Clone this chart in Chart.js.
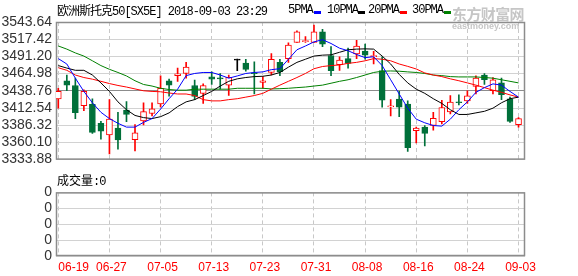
<!DOCTYPE html>
<html>
<head>
<meta charset="utf-8">
<script src="https://cdn.jsdelivr.net/npm/chart.js@4.4.1/dist/chart.umd.min.js"></script>
<style>
body { margin: 0; background: #fff; width: 578px; height: 276px; position: relative; overflow: hidden; }
.t { position: absolute; white-space: nowrap; font-size: 12px; line-height: 14px; color: #000; }
.cjk { font-family: "Noto Sans CJK SC", sans-serif; letter-spacing: -1px; }
.asc { font-family: "Liberation Mono", monospace; letter-spacing: -1px; }
.mk { position: absolute; width: 7px; height: 3px; }
canvas { position: absolute; left: 0; }
.wm { position: absolute; white-space: nowrap; color: #c6c6c6; font-weight: bold; }
</style>
</head>
<body>
<canvas id="main" width="578" height="172" style="top:0"></canvas>
<canvas id="vol" width="578" height="96" style="top:180px"></canvas>

<div class="t" style="left:57px;top:3px"><span class="cjk">欧洲斯托克</span><span class="asc">50[SX5E] 2018-09-03 23:29</span></div>

<div class="t asc" style="left:288px;top:3px">5PMA</div><i class="mk" style="left:314px;top:11px;background:#0000ff"></i>
<div class="t asc" style="left:327px;top:3px">10PMA</div><i class="mk" style="left:358px;top:11px;background:#000"></i>
<div class="t asc" style="left:368px;top:3px">20PMA</div><i class="mk" style="left:400px;top:11px;background:#ff0000"></i>
<div class="t asc" style="left:412px;top:3px">30PMA</div><i class="mk" style="left:444px;top:11px;background:#008000"></i>

<div class="wm" style="left:452px;top:3px;font-size:15px;font-family:'Noto Sans CJK SC';letter-spacing:-0.6px">东方财富网</div>
<div class="wm" style="left:452px;top:21px;font-size:9px;font-family:'Liberation Sans'">eastmoney.com</div>

<div class="t" style="left:57px;top:173px"><span class="cjk" style="letter-spacing:0">成交量</span><span class="asc">:0</span></div>

<script>
// trading days shown on the chart
const dates = ['06-19','06-20','06-21','06-22','06-25','06-26','06-27','06-28','06-29',
  '07-02','07-03','07-04','07-05','07-06','07-09','07-10','07-11','07-12','07-13',
  '07-16','07-17','07-18','07-19','07-20','07-23','07-24','07-25','07-26','07-27',
  '07-30','07-31','08-01','08-02','08-03','08-06','08-07','08-08','08-09','08-10',
  '08-13','08-14','08-15','08-16','08-17','08-20','08-21','08-22','08-23','08-24',
  '08-27','08-28','08-29','08-30','08-31','09-03'];

const openP = [3426.2,3454.1,3446.9,3416.2,3418.1,3389.2,3371.4,3382.0,3409.4,3364.2,
  3393.0,3404.1,3418.6,3454.1,3461.9,3465.2,3446.9,3434.9,3459.9,3458.0,
  3447.4,3485.4,3481.1,3465.7,3451.7,3466.7,3482.0,3487.8,3512.4,3513.8,
  3512.4,3528.7,3492.6,3478.7,3487.8,3495.0,3499.4,3490.7,3469.5,3414.2,
  3426.2,3418.6,3378.1,3383.4,3385.8,3391.6,3406.5,3421.9,3423.4,3445.5,
  3462.8,3438.8,3450.8,3426.7,3387.3];
const highP = [3442.6,3462.8,3458.0,3440.2,3426.7,3392.1,3425.3,3406.0,3422.4,3387.3,
  3420.5,3420.5,3461.4,3456.5,3473.4,3482.1,3455.1,3449.3,3467.6,3465.2,
  3462.8,3487.3,3486.9,3483.0,3460.4,3495.5,3486.9,3511.9,3530.2,3521.5,
  3538.8,3532.6,3506.1,3490.7,3503.7,3515.7,3509.9,3498.9,3490.7,3425.3,
  3437.8,3423.4,3383.4,3385.8,3406.0,3424.3,3431.5,3432.5,3438.8,3461.4,
  3465.2,3458.9,3458.0,3429.1,3397.9];
const lowP = [3412.3,3438.8,3396.4,3408.4,3373.8,3365.1,3342.5,3349.8,3391.6,3347.3,
  3386.8,3400.3,3414.2,3430.6,3453.2,3458.0,3425.3,3419.5,3448.4,3441.2,
  3431.6,3469.5,3468.6,3433.9,3442.6,3462.8,3461.9,3482.1,3512.4,3512.4,
  3512.4,3506.1,3461.9,3470.0,3473.4,3487.8,3486.9,3479.6,3413.7,3400.3,
  3399.3,3346.4,3359.4,3354.6,3378.6,3388.2,3403.6,3417.1,3419.5,3433.9,
  3448.4,3433.9,3425.3,3390.6,3383.4];
const closeP = [3437.8,3447.4,3405.6,3437.8,3375.3,3377.2,3395.5,3363.7,3402.7,3374.8,
  3407.0,3411.3,3442.6,3447.4,3464.7,3474.8,3430.1,3446.9,3456.6,3457.0,
  3459.4,3485.4,3471.5,3464.8,3454.1,3486.9,3467.6,3508.5,3528.7,3515.3,
  3528.7,3510.0,3469.5,3485.4,3480.6,3507.1,3493.1,3492.6,3424.3,3415.7,
  3413.7,3352.2,3382.0,3373.8,3396.9,3413.3,3421.4,3420.5,3431.1,3458.0,
  3455.6,3455.6,3433.0,3392.1,3396.4];

// moving averages as drawn
const ma5 = [3487.8,3479.6,3458.0,3437.8,3420.5,3406.0,3396.4,3389.2,3383.4,3383.4,
  3390.6,3396.4,3410.9,3426.7,3441.2,3461.9,3465.2,3466.7,3466.7,3462.8,
  3458.0,3461.4,3465.2,3466.7,3467.6,3471.0,3472.4,3486.9,3501.3,3507.1,
  3513.3,3516.7,3510.9,3503.7,3499.9,3494.1,3489.3,3490.7,3477.2,3455.6,
  3433.9,3412.3,3395.5,3390.0,3385.8,3384.9,3395.5,3409.9,3421.9,3436.4,
  3443.6,3449.3,3447.4,3437.8,3429.1];
const ma10 = [3477.2,3473.4,3470.0,3470.0,3462.8,3450.8,3437.8,3421.9,3409.9,3401.2,
  3397.9,3396.4,3399.3,3405.1,3414.7,3421.9,3425.3,3431.5,3437.8,3446.0,
  3453.2,3457.0,3459.0,3460.4,3460.9,3462.8,3466.7,3474.8,3482.1,3486.9,
  3491.7,3493.1,3493.6,3497.5,3501.3,3502.3,3502.7,3502.3,3491.7,3479.6,
  3463.8,3450.8,3441.2,3434.9,3426.7,3419.5,3409.9,3402.7,3402.7,3405.1,
  3407.5,3412.3,3420.5,3426.7,3429.1];
const ma20 = [3473.9,3470.0,3462.8,3459.0,3456.5,3453.2,3449.8,3446.9,3444.5,3441.6,
  3438.8,3437.8,3437.3,3435.4,3433.9,3433.9,3431.5,3425.3,3423.4,3423.4,
  3425.3,3426.7,3429.1,3431.5,3434.9,3441.2,3447.4,3453.2,3459.0,3465.2,
  3472.4,3475.8,3477.2,3478.2,3480.6,3482.1,3484.5,3487.8,3486.9,3484.5,
  3479.6,3476.0,3472.0,3466.0,3462.8,3460.4,3457.0,3454.1,3450.8,3447.4,
  3443.6,3439.7,3436.4,3432.5,3429.1];
const ma30 = [3507.1,3502.3,3496.5,3491.7,3484.5,3477.2,3471.5,3466.7,3461.4,3454.1,
  3448.4,3446.0,3442.6,3440.7,3439.7,3439.7,3441.2,3441.2,3441.2,3441.2,
  3441.2,3442.6,3442.6,3442.6,3442.6,3441.6,3442.0,3442.6,3443.6,3444.5,
  3446.0,3447.4,3450.3,3453.2,3455.6,3459.0,3462.8,3466.7,3468.6,3469.0,
  3468.6,3467.6,3466.7,3465.2,3462.8,3461.9,3460.4,3459.9,3459.9,3459.9,
  3459.0,3458.0,3455.6,3453.2,3450.8];

const priceTicks = [3333.88,3360.10,3386.32,3412.54,3438.76,3464.98,3491.20,3517.42,3543.64];
const dateTicks = ['06-19','06-27','07-05','07-13','07-23','07-31','08-08','08-16','08-24','09-03'];
const volTicks = [0,1,2,3,4];

const UP = '#ff0000', DOWN = '#00703a', FLAT = '#000000';
function candleColor(i) {
    if (closeP[i] > openP[i]) return UP;
    if (closeP[i] < openP[i]) return DOWN;
    return FLAT;
}

const xMin = -0.27, xMax = 54.76;

// plot frame
const frame = {
    id: 'frame',
    beforeDatasetsDraw(chart) {
        const a = chart.chartArea, ctx = chart.ctx;
        ctx.save();
        ctx.strokeStyle = '#8c8c8c';
        ctx.lineWidth = 1.5;
        ctx.strokeRect(a.left + 0.5, a.top + 0.5, a.right - a.left - 1, a.bottom - a.top - 1);
        ctx.restore();
    }
};

function maLine(values, color) {
    return {
        type: 'line',
        data: values.map((v, i) => ({x: i, y: v})),
        borderColor: color,
        borderWidth: 1,
        pointRadius: 0,
        fill: false,
        tension: 0
    };
}

const xTicksBuild = s => { s.ticks = dateTicks.map(d => ({value: dates.indexOf(d)})); };

new Chart(document.getElementById('main'), {
    type: 'bar',
    data: {
        datasets: [
            maLine(ma5, '#0000ff'),
            maLine(ma10, '#000000'),
            maLine(ma20, '#ff0000'),
            maLine(ma30, '#008000'),
            {
                // candle bodies
                data: dates.map((d, i) => ({x: i, y: [openP[i], closeP[i]]})),
                backgroundColor: ctx => candleColor(ctx.dataIndex) === UP ? '#ffffff' : candleColor(ctx.dataIndex),
                borderColor: ctx => candleColor(ctx.dataIndex),
                borderWidth: 1,
                borderSkipped: false,
                barThickness: 6,
                minBarLength: 1,
                grouped: false
            },
            {
                // wicks
                data: dates.map((d, i) => ({x: i, y: [lowP[i], highP[i]]})),
                backgroundColor: ctx => candleColor(ctx.dataIndex),
                borderWidth: 0,
                barThickness: 1,
                grouped: false
            }
        ]
    },
    options: {
        responsive: false,
        animation: false,
        layout: {padding: {top: 22, right: 53, bottom: 5, left: 0}},
        plugins: {legend: {display: false}, tooltip: {enabled: false}},
        scales: {
            x: {
                type: 'linear', min: xMin, max: xMax, offset: false,
                afterBuildTicks: xTicksBuild,
                afterFit: s => { s.height = 0; },
                ticks: {display: false},
                grid: {color: '#c8c8c8', drawTicks: false, offset: false},
                border: {display: false, dash: [4, 3]}
            },
            y: {
                min: priceTicks[0], max: priceTicks[priceTicks.length - 1],
                afterBuildTicks: s => { s.ticks = priceTicks.map(v => ({value: v})); },
                afterFit: s => { s.width = 56; },
                ticks: {
                    autoSkip: false, padding: 4, color: '#333',
                    font: {family: 'Liberation Sans', size: 14},
                    callback: v => v.toFixed(2)
                },
                grid: {
                    drawTicks: false,
                    color: c => (c.tick && Math.abs(c.tick.value - priceTicks[4]) < 0.01) ? '#8c8c8c' : '#d2d2d2'
                },
                border: {display: false}
            }
        }
    },
    plugins: [frame]
});

new Chart(document.getElementById('vol'), {
    type: 'bar',
    data: {datasets: []},
    options: {
        responsive: false,
        animation: false,
        layout: {padding: {top: 11, right: 53, bottom: 0, left: 0}},
        plugins: {legend: {display: false}, tooltip: {enabled: false}},
        scales: {
            x: {
                type: 'linear', min: xMin, max: xMax, offset: false,
                afterBuildTicks: xTicksBuild,
                afterFit: s => { s.height = 20; },
                ticks: {
                    autoSkip: false, maxRotation: 0, padding: 4, labelOffset: 2,
                    color: '#ff0000',
                    font: {family: 'Liberation Sans', size: 12},
                    callback: (v, i) => i === 0 ? '        ' + dates[v] : dates[v]
                },
                grid: {color: '#c8c8c8', drawTicks: false, offset: false},
                border: {display: false, dash: [4, 3]}
            },
            y: {
                min: 0, max: 4,
                afterBuildTicks: s => { s.ticks = volTicks.map(v => ({value: v})); },
                afterFit: s => { s.width = 56; },
                ticks: {
                    autoSkip: false, padding: 4, color: '#333',
                    font: {family: 'Liberation Sans', size: 14},
                    callback: () => '0'
                },
                grid: {drawTicks: false, color: '#d2d2d2'},
                border: {display: false}
            }
        }
    },
    plugins: [frame]
});
</script>
</body>
</html>
